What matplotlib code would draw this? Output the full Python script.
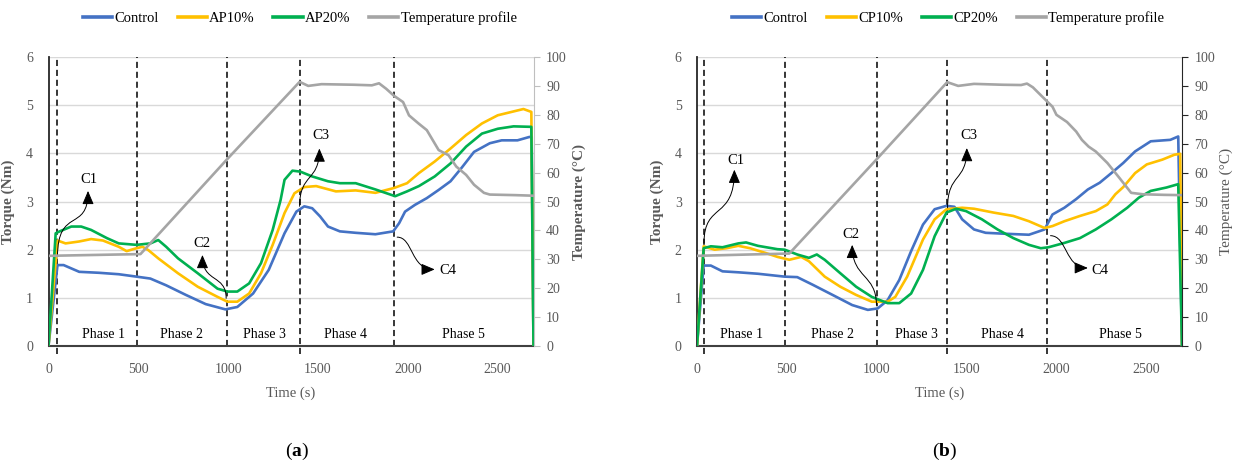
import matplotlib
matplotlib.use("Agg")
import matplotlib.pyplot as plt
from matplotlib.patches import FancyArrowPatch
from matplotlib.path import Path

plt.rcParams['font.family'] = ['Liberation Serif', 'DejaVu Serif']
plt.rcParams['mathtext.fontset'] = 'custom'
plt.rcParams['mathtext.rm'] = 'Liberation Serif'
plt.rcParams['mathtext.bf'] = 'Liberation Serif:bold'

# ---------------- data: panel (a) ----------------
a_ctrl_t = [0, 50, 84, 171, 281, 391, 490, 567, 655, 765, 875, 985, 1051, 1139, 1226, 1314, 1380, 1424,
            1468, 1512, 1556, 1622, 1710, 1820, 1919, 1952, 1985, 2040, 2106, 2172, 2238, 2300, 2369,
            2457, 2523, 2611, 2677, 2690, 2700]
a_ctrl_v = [0, 1.68, 1.68, 1.54, 1.52, 1.49, 1.44, 1.40, 1.26, 1.06, 0.87, 0.76, 0.81, 1.09, 1.58, 2.34, 2.79, 2.90,
            2.86, 2.69, 2.48, 2.38, 2.35, 2.32, 2.38, 2.55, 2.79, 2.93, 3.07, 3.24, 3.42, 3.70, 4.03,
            4.21, 4.27, 4.27, 4.34, 4.34, 0]
a_p10_t = [0, 50, 95, 171, 237, 303, 391, 435, 490, 523, 556, 611, 721, 831, 941, 996, 1051, 1117, 1183, 1248,
           1314, 1369, 1424, 1490, 1600, 1710, 1820, 1923, 1996, 2062, 2150, 2238, 2325, 2413, 2501, 2589,
           2644, 2688, 2700]
a_p10_v = [0, 2.19, 2.13, 2.17, 2.22, 2.19, 2.06, 1.97, 2.03, 2.06, 1.99, 1.82, 1.51, 1.23, 1.02, 0.92, 0.92, 1.09,
           1.51, 2.10, 2.76, 3.17, 3.30, 3.32, 3.21, 3.23, 3.18, 3.28, 3.38, 3.59, 3.83, 4.10, 4.38, 4.62, 4.79,
           4.87, 4.92, 4.86, 0]
a_p20_t = [0, 40, 62, 127, 182, 237, 325, 391, 490, 567, 611, 655, 721, 831, 941, 996, 1051, 1117, 1183, 1248,
           1292, 1314, 1358, 1402, 1468, 1556, 1622, 1710, 1820, 1930, 1996, 2062, 2150, 2238, 2325, 2413,
           2501, 2589, 2688, 2700]
a_p20_v = [0, 2.34, 2.38, 2.48, 2.48, 2.41, 2.24, 2.13, 2.10, 2.13, 2.20, 2.06, 1.82, 1.51, 1.19, 1.13, 1.13, 1.30,
           1.72, 2.41, 3.03, 3.45, 3.64, 3.62, 3.52, 3.42, 3.38, 3.38, 3.25, 3.11, 3.21, 3.32, 3.52, 3.79, 4.14,
           4.41, 4.51, 4.56, 4.55, 0]
a_temp_t = [0, 250, 512, 991, 1398, 1446, 1520, 1700, 1800, 1840, 1880, 1923, 1974, 2007, 2060, 2106, 2128,
            2172, 2227, 2270, 2325, 2369, 2424, 2457, 2600, 2700]
a_temp_v = [31.2, 31.5, 31.8, 64.4, 91.4, 90.0, 90.6, 90.4, 90.2, 90.9, 89.0, 86.6, 84.4, 79.8, 77.0, 74.7, 72.4,
            67.8, 66.0, 62.1, 59.2, 55.8, 53.0, 52.4, 52.2, 52.0]

# ---------------- data: panel (b) ----------------
b_ctrl_t = [0, 37, 77, 142, 230, 339, 488, 558, 645, 755, 864, 951, 1006, 1061, 1126, 1192, 1258, 1323, 1389,
            1433, 1476, 1542, 1607, 1717, 1848, 1935, 1979, 2045, 2111, 2176, 2242, 2307, 2373, 2439, 2526,
            2635, 2679, 2700]
b_ctrl_v = [0, 1.67, 1.67, 1.55, 1.53, 1.50, 1.44, 1.43, 1.27, 1.06, 0.85, 0.75, 0.78, 0.95, 1.37, 1.97, 2.52,
            2.84, 2.91, 2.89, 2.63, 2.42, 2.35, 2.33, 2.31, 2.42, 2.73, 2.87, 3.05, 3.25, 3.39, 3.59, 3.80,
            4.04, 4.25, 4.28, 4.35, 0]
b_p10_t = [0, 37, 98, 164, 230, 295, 383, 448, 514, 580, 623, 711, 798, 886, 973, 1061, 1104, 1170, 1258, 1323,
           1389, 1476, 1542, 1651, 1761, 1848, 1935, 1979, 2045, 2132, 2220, 2285, 2329, 2373, 2439, 2504,
           2591, 2657, 2690, 2700]
b_p10_v = [0, 2.07, 2.00, 2.03, 2.08, 2.03, 1.93, 1.85, 1.79, 1.85, 1.76, 1.44, 1.23, 1.06, 0.92, 0.92, 1.02,
           1.44, 2.21, 2.63, 2.84, 2.87, 2.85, 2.77, 2.70, 2.59, 2.45, 2.49, 2.59, 2.70, 2.80, 2.94, 3.15,
           3.30, 3.59, 3.77, 3.87, 3.97, 3.99, 0]
b_p20_t = [0, 37, 77, 142, 230, 273, 339, 448, 488, 558, 623, 667, 711, 798, 886, 973, 1061, 1126, 1192, 1258,
           1323, 1389, 1443, 1498, 1586, 1673, 1761, 1848, 1914, 1957, 2045, 2132, 2220, 2307, 2395, 2460,
           2526, 2613, 2679, 2700]
b_p20_v = [0, 2.03, 2.07, 2.05, 2.13, 2.15, 2.08, 2.01, 2.00, 1.90, 1.83, 1.90, 1.79, 1.51, 1.23, 1.02, 0.89,
           0.89, 1.09, 1.58, 2.28, 2.77, 2.85, 2.80, 2.63, 2.42, 2.24, 2.10, 2.03, 2.05, 2.14, 2.24, 2.42,
           2.63, 2.87, 3.08, 3.22, 3.29, 3.36, 0]
b_temp_t = [0, 250, 514, 1000, 1393, 1454, 1542, 1700, 1804, 1837, 1870, 1951, 1979, 2001, 2060, 2111, 2143,
            2180, 2220, 2285, 2351, 2417, 2482, 2600, 2700]
b_temp_v = [31.2, 31.6, 32.0, 64.6, 91.3, 90.0, 90.7, 90.4, 90.3, 90.8, 89.5, 84.5, 82.8, 80.0, 77.5, 74.2, 71.3,
            69.0, 67.3, 63.3, 58.2, 53.0, 52.5, 52.3, 52.2]

# ---------------- labels / annotations ----------------
a_names = ["Control", "AP10%", "AP20%", "Temperature profile"]
b_names = ["Control", "CP10%", "CP20%", "Temperature profile"]
phase_names = ["Phase 1", "Phase 2", "Phase 3", "Phase 4", "Phase 5"]
a_phase_x = [305, 740, 1200, 1655, 2310]
b_phase_x = [250, 755, 1222, 1700, 2360]
a_dash = [50, 490, 991, 1398, 1923]
a_dash_ext = [True, False, False, True, False]
b_dash = [37, 488, 1002, 1393, 1951]
b_dash_ext = [True, False, False, True, True]
# (label, text position, tail, ctrl1, ctrl2, head)
a_notes = [
    ("C1", (226, 3.45), (50, 1.85), (50, 2.9), (220, 2.35), (220, 3.22)),
    ("C2", (853, 2.13), (989, 0.99), (989, 1.5), (857, 1.3), (857, 1.89)),
    ("C3", (1517, 4.36), (1398, 2.90), (1398, 3.6), (1508, 3.4), (1508, 4.10)),
    ("C4", (2222, 1.56), (1941, 2.26), (2030, 2.26), (2015, 1.59), (2150, 1.59)),
]
b_notes = [
    ("C1", (214, 3.85), (39, 2.14), (39, 3.0), (208, 2.6), (208, 3.66)),
    ("C2", (857, 2.31), (999, 0.85), (999, 1.5), (864, 1.4), (864, 2.10)),
    ("C3", (1516, 4.36), (1395, 2.87), (1395, 3.6), (1502, 3.4), (1502, 4.11)),
    ("C4", (2242, 1.57), (1968, 2.29), (2060, 2.29), (2050, 1.62), (2176, 1.62)),
]

C_BLUE, C_YEL, C_GRN, C_GRY = "#4472C4", "#FFC000", "#00B050", "#A5A5A5"
TXT = "#595959"

fig = plt.figure(figsize=(12.36, 4.65), dpi=100)


def panel(x0, series, temp, names, phase_x, dash, dash_ext, notes, tag, rcol, tweight, tpad):
    ax = fig.add_axes([x0 / 1236, 1 - 346 / 465, 485 / 1236, 289 / 465])
    ax2 = ax.twinx()
    ax.set_xlim(0, 2700)
    ax.set_ylim(0, 6)
    ax2.set_ylim(0, 100)
    for y in range(1, 7):
        ax.axhline(y, color="#D9D9D9", lw=1.0, zorder=0)
    for xd, ext in zip(dash, dash_ext):
        ax.plot([xd, xd], [-0.17 if ext else 0, 6], color="black", lw=1.1,
                ls=(0, (4, 2.5)), clip_on=False, zorder=1)
    cols = [C_BLUE, C_YEL, C_GRN]
    handles = []
    for (t, v), c, n in zip(series, cols, names[:3]):
        h, = ax.plot(t, v, color=c, lw=1.9, zorder=3, label=n)
        handles.append(h)
    ht, = ax2.plot(temp[0], temp[1], color=C_GRY, lw=1.9, label=names[3])
    handles.append(ht)

    for px, pn in zip(phase_x, phase_names):
        ax.text(px, 0.24, pn, ha="center", va="center", fontsize=10, color="black")
    for lab, tp, p0, p1, p2, p3 in notes:
        ax.text(tp[0], tp[1], lab, ha="center", va="center", fontsize=10.5, color="black")
        path = Path([p0, p1, p2, p3], [Path.MOVETO, Path.CURVE4, Path.CURVE4, Path.CURVE4])
        arr = FancyArrowPatch(path=path, arrowstyle="-|>,head_length=0.75,head_width=0.32",
                              mutation_scale=11, color="black", lw=0.7, zorder=5)
        ax.add_patch(arr)

    ax.set_xticks(range(0, 2501, 500))
    ax.set_yticks(range(0, 7))
    ax2.set_yticks(range(0, 101, 10))
    ax.tick_params(axis="x", length=0, pad=12, labelsize=10, labelcolor=TXT)
    ax.tick_params(axis="y", length=0, pad=11, labelsize=10, labelcolor=TXT)
    ax2.tick_params(axis="y", length=4, width=0.8, color=rcol, pad=5, labelsize=10, labelcolor=TXT)
    ax.spines["top"].set_visible(False)
    ax2.spines["top"].set_visible(False)
    ax.spines["right"].set_visible(False)
    ax2.spines["left"].set_visible(False)
    ax2.spines["bottom"].set_visible(False)
    ax2.spines["right"].set_color(rcol)
    ax.spines["left"].set_color("#262626")
    ax.spines["left"].set_linewidth(1.3)
    ax.spines["bottom"].set_color("#404040")
    ax.spines["bottom"].set_linewidth(1.5)
    ax.set_xlabel("Time (s)", fontsize=10.5, color=TXT, labelpad=8)
    ax.set_ylabel("Torque (Nm)", fontsize=11, color=TXT, fontweight="bold", labelpad=8)
    ax2.set_ylabel("Temperature (°C)", fontsize=11, color=TXT, fontweight=tweight, labelpad=tpad)
    ax.legend(handles=handles, loc="center", bbox_to_anchor=(0.518, (465 - 18 - 119) / 289),
              ncol=4, frameon=False, fontsize=10.5, handlelength=2.0, handletextpad=0.15,
              columnspacing=1.3, borderaxespad=0)
    for lh in ax.get_legend().get_lines():
        lh.set_linewidth(2.6)
    fig.text((x0 + 248) / 1236, 1 - 451 / 465, "(" + r"$\mathbf{" + tag + "}$" + ")",
             ha="center", va="center", fontsize=14, color="black")
    return ax, ax2


panel(48.5, [(a_ctrl_t, a_ctrl_v), (a_p10_t, a_p10_v), (a_p20_t, a_p20_v)], (a_temp_t, a_temp_v),
      a_names, a_phase_x, a_dash, a_dash_ext, a_notes, "a", "#BFBFBF", "bold", 4)
panel(697, [(b_ctrl_t, b_ctrl_v), (b_p10_t, b_p10_v), (b_p20_t, b_p20_v)], (b_temp_t, b_temp_v),
      b_names, b_phase_x, b_dash, b_dash_ext, b_notes, "b", "#262626", "normal", 3)

fig.savefig("out.png", dpi=100)
